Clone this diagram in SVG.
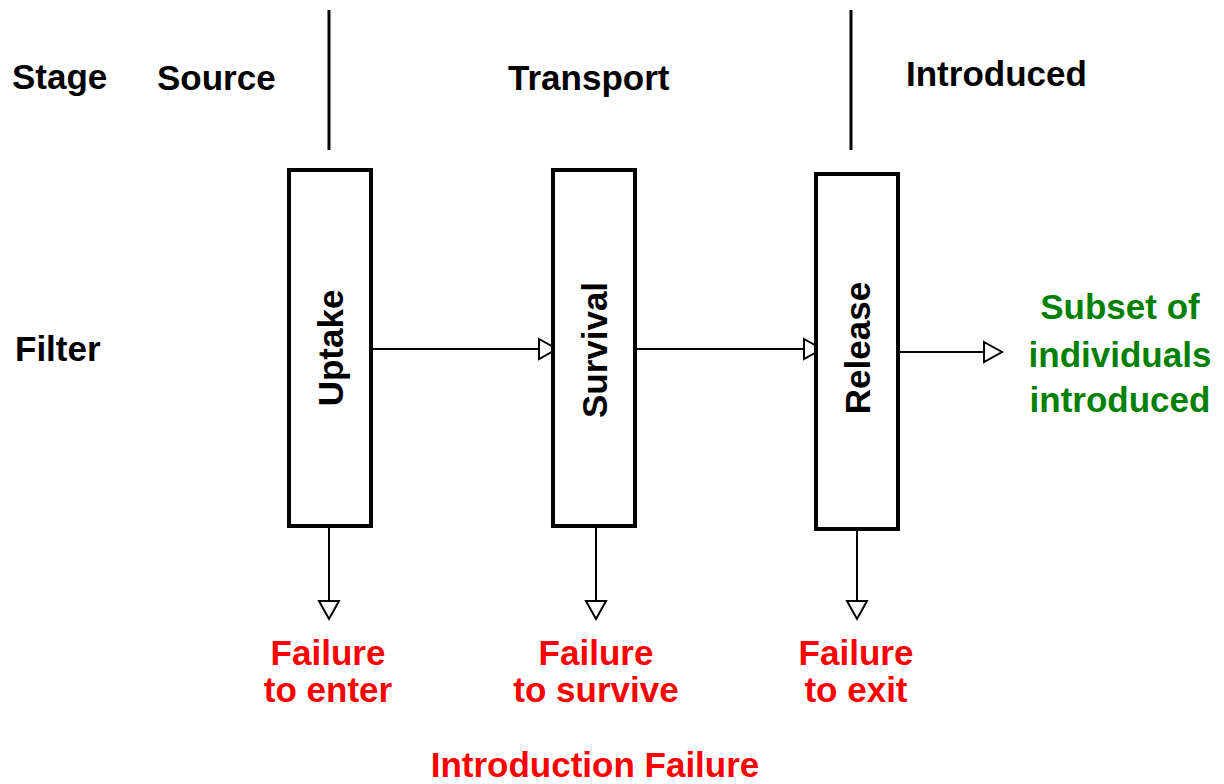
<svg xmlns="http://www.w3.org/2000/svg" width="1224" height="784" viewBox="0 0 1224 784">
<style>
text{font-family:"Liberation Sans",Arial,sans-serif;font-weight:bold;font-size:35px;fill:#000}
.red{fill:#ff0000;text-anchor:middle}
.green{fill:#008000;text-anchor:middle}
.box{fill:#fff;stroke:#000;stroke-width:4}
.lbl{text-anchor:middle;dominant-baseline:central}
.conn{stroke:#000;stroke-width:2;fill:none;marker-end:url(#tri)}
.div{stroke:#000;stroke-width:3}
</style>
<defs>
<marker id="tri" markerUnits="userSpaceOnUse" markerWidth="24" markerHeight="24" refX="19" refY="11" orient="auto" overflow="visible">
<path d="M1,1 L19,11 L1,21 Z" fill="#fff" stroke="#000" stroke-width="2"/>
</marker>
</defs>
<g id="headers">
<text x="12" y="89">Stage</text>
<text x="157" y="90">Source</text>
<text x="508" y="90">Transport</text>
<text x="906" y="86">Introduced</text>
<text x="15" y="361">Filter</text>
<line class="div" x1="329" y1="10" x2="329" y2="150"/>
<line class="div" x1="851" y1="10" x2="851" y2="150"/>
</g>
<g id="connectors">
<line class="conn" x1="372" y1="349" x2="557" y2="349"/>
<line class="conn" x1="637" y1="349" x2="822" y2="349"/>
<line class="conn" x1="899" y1="352" x2="1002" y2="352"/>
<line class="conn" x1="329" y1="527" x2="329" y2="619"/>
<line class="conn" x1="596" y1="526" x2="596" y2="619"/>
<line class="conn" x1="857" y1="530" x2="857" y2="619"/>
</g>
<g id="uptake">
<rect class="box" x="289" y="170" width="82" height="356"/>
<text class="lbl" transform="translate(330,348) rotate(-90)">Uptake</text>
</g>
<g id="survival">
<rect class="box" x="553" y="170" width="82" height="356"/>
<text class="lbl" transform="translate(594,350) rotate(-90)">Survival</text>
</g>
<g id="release">
<rect class="box" x="816" y="174" width="82" height="355"/>
<text class="lbl" transform="translate(857,348) rotate(-90)">Release</text>
</g>
<g id="subset">
<text class="green" x="1120" y="319">Subset of</text>
<text class="green" x="1120" y="367">individuals</text>
<text class="green" x="1120" y="412">introduced</text>
</g>
<g id="fail-enter">
<text class="red" x="328" y="665">Failure</text>
<text class="red" x="328" y="702">to enter</text>
</g>
<g id="fail-survive">
<text class="red" x="596" y="665">Failure</text>
<text class="red" x="596" y="702">to survive</text>
</g>
<g id="fail-exit">
<text class="red" x="856" y="665">Failure</text>
<text class="red" x="856" y="702">to exit</text>
</g>
<g id="intro-failure">
<text class="red" x="595" y="777">Introduction Failure</text>
</g>
</svg>
